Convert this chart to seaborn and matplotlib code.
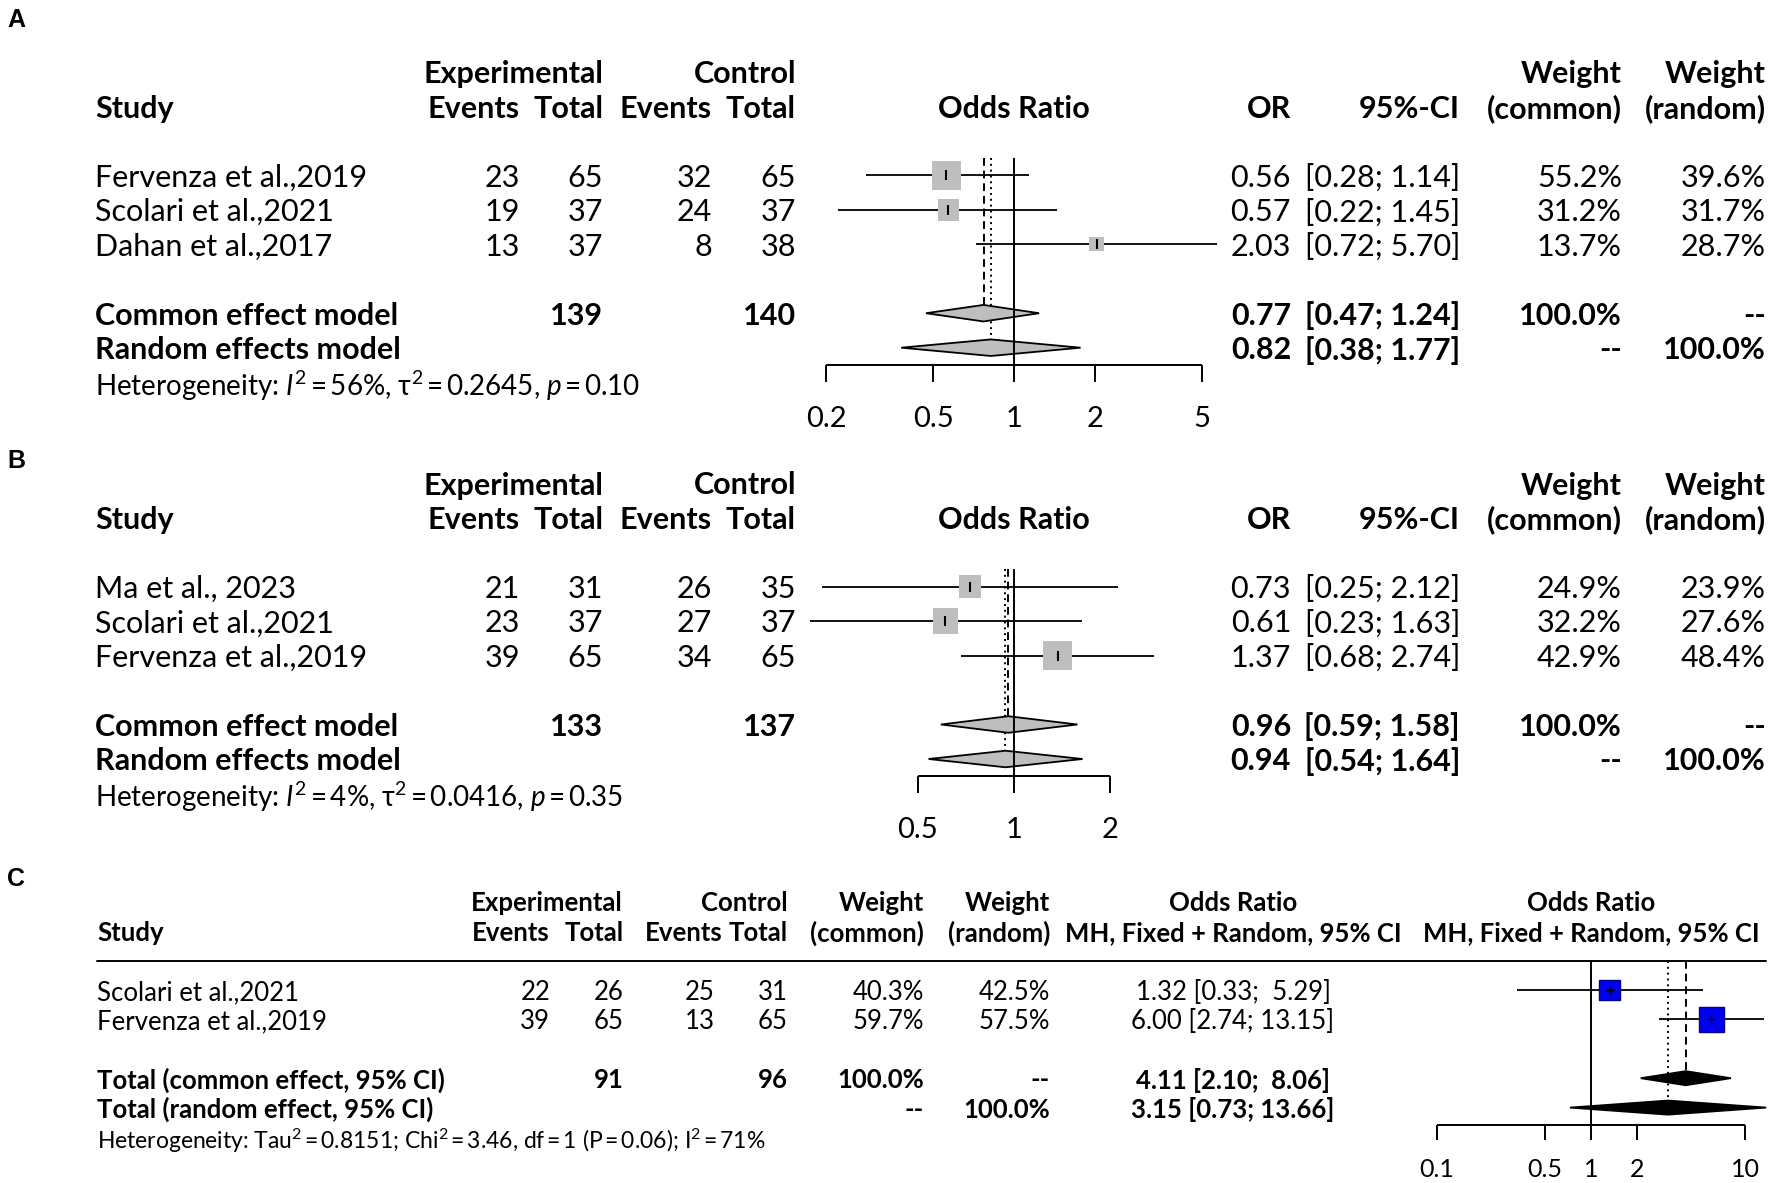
import numpy as np
import matplotlib.pyplot as plt
import matplotlib.transforms as mtransforms
import seaborn as sns

sns.set_theme(style="white")
plt.rcParams["font.family"] = ["Lato", "DejaVu Sans"]
plt.rcParams["mathtext.fontset"] = "custom"
plt.rcParams["mathtext.rm"] = "Lato"
plt.rcParams["mathtext.it"] = "Lato:italic"
plt.rcParams["mathtext.bf"] = "Lato:bold"
plt.rcParams["text.color"] = "black"

TS = "\u2009"  # thin space used around "=" in the heterogeneity lines

# ---------------- Panel A data
a_study = ["Fervenza et al.,2019", "Scolari et al.,2021", "Dahan et al.,2017"]
a_exp_events = [23, 19, 13]
a_exp_total = [65, 37, 37]
a_ctl_events = [32, 24, 8]
a_ctl_total = [65, 37, 38]
a_or = [0.56, 0.57, 2.03]
a_lo = [0.28, 0.22, 0.72]
a_hi = [1.14, 1.45, 5.70]
a_w_common = [55.2, 31.2, 13.7]
a_w_random = [39.6, 31.7, 28.7]
a_totals = [139, 140]
a_common = [0.77, 0.47, 1.24]
a_random = [0.82, 0.38, 1.77]
a_het = (r"Heterogeneity: $\mathit{I}^2$" + TS + "=" + TS + r"56%, $\mathrm{\tau}^2$" + TS + "=" + TS
         + r"0.2645, $\mathit{p}$" + TS + "=" + TS + "0.10")
a_ticks = [0.2, 0.5, 1, 2, 5]
a_ticklabels = ["0.2", "0.5", "1", "2", "5"]

# ---------------- Panel B data
b_study = ["Ma et al., 2023", "Scolari et al.,2021", "Fervenza et al.,2019"]
b_exp_events = [21, 23, 39]
b_exp_total = [31, 37, 65]
b_ctl_events = [26, 27, 34]
b_ctl_total = [35, 37, 65]
b_or = [0.73, 0.61, 1.37]
b_lo = [0.25, 0.23, 0.68]
b_hi = [2.12, 1.63, 2.74]
b_w_common = [24.9, 32.2, 42.9]
b_w_random = [23.9, 27.6, 48.4]
b_totals = [133, 137]
b_common = [0.96, 0.59, 1.58]
b_random = [0.94, 0.54, 1.64]
b_het = (r"Heterogeneity: $\mathit{I}^2$" + TS + "=" + TS + r"4%, $\mathrm{\tau}^2$" + TS + "=" + TS
         + r"0.0416, $\mathit{p}$" + TS + "=" + TS + "0.35")
b_ticks = [0.5, 1, 2]
b_ticklabels = ["0.5", "1", "2"]

# ---------------- Panel C data
c_study = ["Scolari et al.,2021", "Fervenza et al.,2019"]
c_exp_events = [22, 39]
c_exp_total = [26, 65]
c_ctl_events = [25, 13]
c_ctl_total = [31, 65]
c_w_common = [40.3, 59.7]
c_w_random = [42.5, 57.5]
c_or = [1.32, 6.00]
c_lo = [0.33, 2.74]
c_hi = [5.29, 13.15]
c_totals = [91, 96]
c_common = [4.11, 2.10, 8.06]
c_random = [3.15, 0.73, 13.66]
c_het = (r"Heterogeneity: $\mathrm{Tau}^2$" + TS + "=" + TS + r"0.8151; $\mathrm{Chi}^2$"
         + TS + "=" + TS + "3.46, df" + TS + "=" + TS + "1 (P" + TS + "=" + TS
         + r"0.06); $\mathrm{I}^2$" + TS + "=" + TS + "71%")
c_ticks = [0.1, 0.5, 1, 2, 10]
c_ticklabels = ["0.1", "0.5", "1", "2", "10"]

W, H = 1772, 1183
fig = plt.figure(figsize=(W / 100, H / 100), dpi=100, facecolor="white")


def make_axes(left, right, p1, k, y0, dy, top_row, bottom_row):
    # left/right in pixels, p1 = pixel of OR 1, k = pixels per decade
    ax = fig.add_axes([left / W, 1 - (y0 + bottom_row * dy) / H,
                       (right - left) / W, (bottom_row - top_row) * dy / H])
    ax.set_xscale("log")
    ax.axis("off")
    ax._lims = ((10 ** ((left - p1) / k), 10 ** ((right - p1) / k)), (bottom_row, top_row))
    return ax


def fix_lims(ax):
    ax.set_xlim(*ax._lims[0])
    ax.set_ylim(*ax._lims[1])


def txt(ax, x, row, s, ha="right", bold=False, size=22):
    tr = mtransforms.blended_transform_factory(fig.transFigure, ax.transData)
    ax.text(x / W, row, s, transform=tr, ha=ha, va="center_baseline",
            fontweight="bold" if bold else "normal", fontsize=size, clip_on=False)


def diamond(ax, est, lo, hi, row, dh, fc):
    ax.fill([lo, est, hi, est], [row, row - dh, row, row + dh], facecolor=fc,
            edgecolor="black", lw=1.3, zorder=3, clip_on=False)


def meta_panel(ax, study, ee, et, ce, ct, odds, lo, hi, wc, wr, totals,
               common, random, het, ticks, ticklabels, fs=22):
    n = len(study)
    rows = np.arange(n)
    r_com, r_ran = n + 1, n + 2
    r_axis, r_het = r_ran + 0.5, r_ran + 1
    dh = 0.24

    # header
    for x, s in [(603, "Experimental"), (796, "Control"), (1622, "Weight"), (1766, "Weight")]:
        txt(ax, x, -3, s, bold=True, size=fs)
    txt(ax, 95, -2, "Study", ha="left", bold=True, size=fs)
    for x, s in [(520, "Events"), (603, "Total"), (712, "Events"), (796, "Total"),
                 (1291, "OR"), (1460, "95%-CI"), (1622, "(common)"), (1766, "(random)")]:
        txt(ax, x, -2, s, bold=True, size=fs)
    txt(ax, 1014, -2, "Odds Ratio", ha="center", bold=True, size=fs)

    # study rows
    for i in range(n):
        txt(ax, 95, i, study[i], ha="left", size=fs)
        txt(ax, 520, i, str(ee[i]), size=fs)
        txt(ax, 603, i, str(et[i]), size=fs)
        txt(ax, 712, i, str(ce[i]), size=fs)
        txt(ax, 796, i, str(ct[i]), size=fs)
        txt(ax, 1291, i, f"{odds[i]:.2f}", size=fs)
        txt(ax, 1460, i, f"[{lo[i]:.2f}; {hi[i]:.2f}]", size=fs)
        txt(ax, 1622, i, f"{wc[i]:.1f}%", size=fs)
        txt(ax, 1766, i, f"{wr[i]:.1f}%", size=fs)

    # summary rows
    txt(ax, 95, r_com, "Common effect model", ha="left", bold=True, size=fs)
    txt(ax, 603, r_com, str(totals[0]), bold=True, size=fs)
    txt(ax, 796, r_com, str(totals[1]), bold=True, size=fs)
    txt(ax, 1291, r_com, f"{common[0]:.2f}", bold=True, size=fs)
    txt(ax, 1460, r_com, f"[{common[1]:.2f}; {common[2]:.2f}]", bold=True, size=fs)
    txt(ax, 1622, r_com, "100.0%", bold=True, size=fs)
    txt(ax, 1766, r_com, "--", bold=True, size=fs)
    txt(ax, 95, r_ran, "Random effects model", ha="left", bold=True, size=fs)
    txt(ax, 1291, r_ran, f"{random[0]:.2f}", bold=True, size=fs)
    txt(ax, 1460, r_ran, f"[{random[1]:.2f}; {random[2]:.2f}]", bold=True, size=fs)
    txt(ax, 1622, r_ran, "--", bold=True, size=fs)
    txt(ax, 1766, r_ran, "100.0%", bold=True, size=fs)
    txt(ax, 95, r_het, het, ha="left", size=fs - 2)

    # reference lines
    ax.vlines(1, -0.5, r_axis, color="black", lw=1.4, zorder=5, clip_on=False)
    ax.vlines(common[0], -0.5, r_com - dh, color="black", lw=1.4,
              linestyles=(0, (4, 2.5)), zorder=2, clip_on=False)
    ax.vlines(random[0], -0.5, r_ran - dh, color="black", lw=1.4,
              linestyles=(0, (1, 2)), zorder=2, clip_on=False)

    # CIs and squares
    ax.hlines(rows, lo, hi, color="black", lw=1.3, zorder=2, clip_on=False)
    sns.scatterplot(x=odds, y=rows, size=wc, sizes=(0, 436), size_norm=(0, max(wc)),
                    marker="s", color="#BEBEBE", edgecolor="none", legend=False,
                    ax=ax, zorder=3, clip_on=False)
    ax.plot(odds, rows, "|", color="black", ms=7, mew=1.5, zorder=4, clip_on=False)

    diamond(ax, common[0], common[1], common[2], r_com, dh, "#BEBEBE")
    diamond(ax, random[0], random[1], random[2], r_ran, dh, "#BEBEBE")

    # axis
    ax.hlines(r_axis, ticks[0], ticks[-1], color="black", lw=1.4, clip_on=False)
    ax.vlines(ticks, r_axis, r_axis + 0.49, color="black", lw=1.4, clip_on=False)
    for t, lab in zip(ticks, ticklabels):
        ax.text(t, r_axis + 1.5, lab, ha="center", va="center_baseline", fontsize=fs - 1)
    fix_lims(ax)


# ---------------- Panel A
ax_a = make_axes(791, 1232, 1014, 268.4, 175.2, 34.5, -4, 8)
meta_panel(ax_a, a_study, a_exp_events, a_exp_total, a_ctl_events, a_ctl_total,
           a_or, a_lo, a_hi, a_w_common, a_w_random, a_totals, a_common, a_random,
           a_het, a_ticks, a_ticklabels)

# ---------------- Panel B
ax_b = make_axes(791, 1232, 1014, 319.1, 586.5, 34.5, -4, 8)
meta_panel(ax_b, b_study, b_exp_events, b_exp_total, b_ctl_events, b_ctl_total,
           b_or, b_lo, b_hi, b_w_common, b_w_random, b_totals, b_common, b_random,
           b_het, b_ticks, b_ticklabels)

# ---------------- Panel C
ax_c = make_axes(1413, 1769, 1591, 154.3, 990, 29.4, -4, 7)
fs = 18.5
n = len(c_study)
rows = np.arange(n)
r_com, r_ran = n + 1, n + 2
r_axis, r_het = r_ran + 0.58, r_ran + 1.04
dh = 0.24

for x, s in [(623, "Experimental"), (788, "Control"), (924, "Weight"), (1050, "Weight")]:
    txt(ax_c, x, -3.04, s, bold=True, size=fs)
txt(ax_c, 1233, -3.04, "Odds Ratio", ha="center", bold=True, size=fs)
txt(ax_c, 1591, -3.04, "Odds Ratio", ha="center", bold=True, size=fs)
txt(ax_c, 97, -2, "Study", ha="left", bold=True, size=fs)
for x, s in [(550, "Events"), (624, "Total"), (723, "Events"), (788, "Total"),
             (924, "(common)"), (1050, "(random)")]:
    txt(ax_c, x, -2, s, bold=True, size=fs)
txt(ax_c, 1233, -2, "MH, Fixed + Random, 95% CI", ha="center", bold=True, size=fs)
txt(ax_c, 1591, -2, "MH, Fixed + Random, 95% CI", ha="center", bold=True, size=fs)

tr_c = mtransforms.blended_transform_factory(fig.transFigure, ax_c.transData)
ax_c.plot([97 / W, 1766 / W], [-1, -1], transform=tr_c, color="black", lw=1.4, clip_on=False)

for i in range(n):
    txt(ax_c, 97, i, c_study[i], ha="left", size=fs)
    txt(ax_c, 550, i, str(c_exp_events[i]), size=fs)
    txt(ax_c, 624, i, str(c_exp_total[i]), size=fs)
    txt(ax_c, 715, i, str(c_ctl_events[i]), size=fs)
    txt(ax_c, 788, i, str(c_ctl_total[i]), size=fs)
    txt(ax_c, 924, i, f"{c_w_common[i]:.1f}%", size=fs)
    txt(ax_c, 1050, i, f"{c_w_random[i]:.1f}%", size=fs)
    txt(ax_c, 1233, i, f"{c_or[i]:.2f} [{c_lo[i]:.2f}; {c_hi[i]:5.2f}]", ha="center", size=fs)

txt(ax_c, 97, r_com, "Total (common effect, 95% CI)", ha="left", bold=True, size=fs)
txt(ax_c, 624, r_com, str(c_totals[0]), bold=True, size=fs)
txt(ax_c, 788, r_com, str(c_totals[1]), bold=True, size=fs)
txt(ax_c, 924, r_com, "100.0%", bold=True, size=fs)
txt(ax_c, 1050, r_com, "--", bold=True, size=fs)
txt(ax_c, 1233, r_com, f"{c_common[0]:.2f} [{c_common[1]:.2f}; {c_common[2]:5.2f}]",
    ha="center", bold=True, size=fs)
txt(ax_c, 97, r_ran, "Total (random effect, 95% CI)", ha="left", bold=True, size=fs)
txt(ax_c, 924, r_ran, "--", bold=True, size=fs)
txt(ax_c, 1050, r_ran, "100.0%", bold=True, size=fs)
txt(ax_c, 1233, r_ran, f"{c_random[0]:.2f} [{c_random[1]:.2f}; {c_random[2]:5.2f}]",
    ha="center", bold=True, size=fs)
txt(ax_c, 97, r_het, c_het, ha="left", size=16.5)

ax_c.vlines(1, -1, r_axis, color="black", lw=1.4, zorder=5, clip_on=False)
ax_c.vlines(c_common[0], -1, r_com - dh, color="black", lw=1.4,
            linestyles=(0, (4, 2.5)), zorder=2, clip_on=False)
ax_c.vlines(c_random[0], -1, r_ran - dh, color="black", lw=1.4,
            linestyles=(0, (1, 2)), zorder=2, clip_on=False)
ax_c.hlines(rows, c_lo, c_hi, color="black", lw=1.3, zorder=2, clip_on=False)
sns.scatterplot(x=c_or, y=rows, size=c_w_common, sizes=(0, 324),
                size_norm=(0, max(c_w_common)), marker="s", color="#0000EE",
                edgecolor="#000080", linewidth=1, legend=False, ax=ax_c,
                zorder=3, clip_on=False)
ax_c.plot(c_or, rows, "+", color="black", ms=6, mew=1, zorder=4, clip_on=False)
diamond(ax_c, c_common[0], c_common[1], c_common[2], r_com, dh, "black")
diamond(ax_c, c_random[0], c_random[1], c_random[2], r_ran, dh, "black")
ax_c.hlines(r_axis, c_ticks[0], c_ticks[-1], color="black", lw=1.4, clip_on=False)
ax_c.vlines(c_ticks, r_axis, r_axis + 0.52, color="black", lw=1.4, clip_on=False)
for t, lab in zip(c_ticks, c_ticklabels):
    ax_c.text(t, r_axis + 1.46, lab, ha="center", va="center_baseline", fontsize=18)
fix_lims(ax_c)

# panel letters
for lab, (x, y) in zip(["A", "B", "C"], [(16, 20), (16, 461), (16, 879)]):
    fig.text(x / W, 1 - y / H, lab, ha="center", va="center", fontsize=18,
             fontweight="bold", family=["Liberation Sans", "DejaVu Sans"])

fig.savefig("out.png", dpi=100, facecolor="white")
